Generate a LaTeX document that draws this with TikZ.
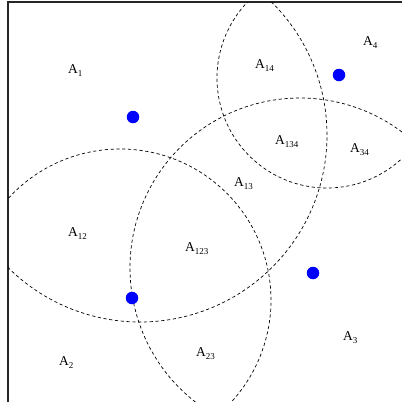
\documentclass[tikz,border=0pt]{standalone}
\usepackage{fontspec}
\setmainfont{Liberation Serif}
\usepackage{tikz}
\newcommand{\regsub}[1]{\raisebox{-3.4pt}{\fontsize{9}{9}\selectfont #1}}

\begin{document}
\begin{tikzpicture}[
    x=1pt, y=-1pt,
    frame/.style={line width=1.6pt, black!85},
    bound/.style={line width=0.7pt, dash pattern=on 3.2pt off 2.6pt},
    site/.style={circle, fill=blue, inner sep=0pt, minimum size=12.5pt},
    region/.style={anchor=base west, inner sep=0pt, font=\fontsize{13.5}{14}\selectfont}
]
    \useasboundingbox (0,0) rectangle (402,402);

    % Frame
    \draw[frame] (8,402) -- (8,2) -- (402,2);

    % Centres of the boundary circles
    \coordinate (c1) at (140,135);
    \coordinate (c2) at (120,300);
    \coordinate (c3) at (300,268);
    \coordinate (c4) at (327,78);

    % Region boundaries
    \begin{scope}
    \clip (8,2) rectangle (402,402);
    \draw[bound] (c1) ++(-49:187) arc[start angle=-49, end angle=139, radius=187];
    \draw[bound] (c2) ++(-142:151) arc[start angle=-142, end angle=46, radius=151];
    \draw[bound] (c3) ++(124:170) arc[start angle=124, end angle=311, radius=170];
    \draw[bound] (c4) ++(42:110) arc[start angle=42, end angle=228, radius=110];
    \end{scope}

    % Sites
    \node[site] (p1) at (133,117) {};
    \node[site] (p2) at (132,298) {};
    \node[site] (p3) at (313,273) {};
    \node[site] (p4) at (339,75) {};

    % Region labels
    \node[region] (a1) at (68,73) {A\regsub{1}};
    \node[region] (a4) at (363,45) {A\regsub{4}};
    \node[region] (a14) at (255,68) {A\regsub{14}};
    \node[region] (a134) at (275,144) {A\regsub{134}};
    \node[region] (a34) at (350,152) {A\regsub{34}};
    \node[region] (a13) at (234,186) {A\regsub{13}};
    \node[region] (a12) at (68,236) {A\regsub{12}};
    \node[region] (a123) at (185,251) {A\regsub{123}};
    \node[region] (a2) at (59,365) {A\regsub{2}};
    \node[region] (a23) at (196,356) {A\regsub{23}};
    \node[region] (a3) at (343,340) {A\regsub{3}};
\end{tikzpicture}
\end{document}
